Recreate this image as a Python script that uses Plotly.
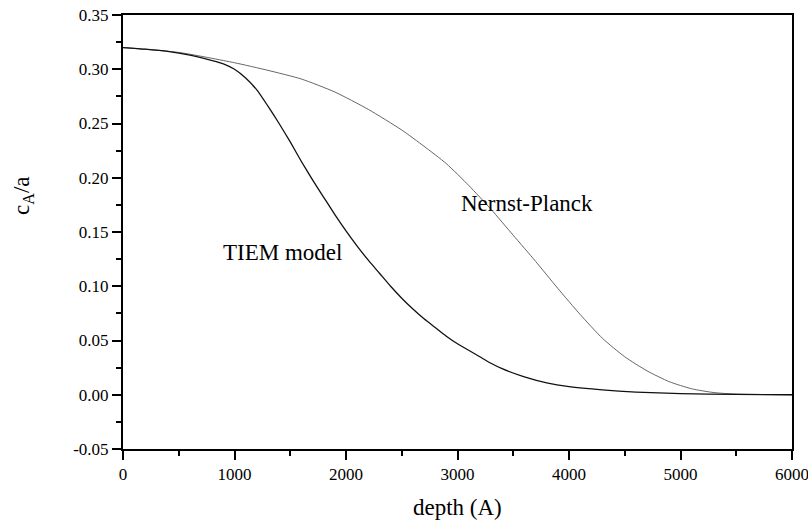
import plotly.graph_objects as go

# TIEM model curve
tiem_depth = [0, 200, 400, 600, 800, 900, 1000, 1100, 1200, 1300, 1400, 1500, 1600, 1700,
              1800, 1900, 2000, 2100, 2200, 2300, 2400, 2500, 2600, 2700, 2800, 2900,
              3000, 3100, 3200, 3300, 3400, 3600, 3800, 4000, 4300, 4600, 5000, 5500, 6000]
tiem_conc = [0.320, 0.3185, 0.3165, 0.313, 0.308, 0.305, 0.300, 0.292, 0.281, 0.266,
             0.250, 0.233, 0.215, 0.198, 0.182, 0.166, 0.151, 0.137, 0.124, 0.112,
             0.100, 0.089, 0.079, 0.070, 0.062, 0.054, 0.047, 0.041, 0.035, 0.029,
             0.024, 0.0165, 0.011, 0.0075, 0.0045, 0.0025, 0.001, 0.0003, 0.0]

# Nernst-Planck curve
np_depth = [0, 500, 1000, 1300, 1600, 1900, 2200, 2500, 2700, 2900, 3100, 3300, 3500,
            3700, 3900, 4100, 4300, 4500, 4700, 4900, 5100, 5300, 5500, 6000]
np_conc = [0.320, 0.3155, 0.306, 0.299, 0.291, 0.279, 0.263, 0.244, 0.229, 0.213,
           0.193, 0.171, 0.147, 0.123, 0.098, 0.074, 0.052, 0.035, 0.022, 0.012,
           0.0055, 0.002, 0.0006, 0.0]

x_ticks = [0, 1000, 2000, 3000, 4000, 5000, 6000]
x_tick_text = ["0", "1000", "2000", "3000", "4000", "5000", "6000"]
y_ticks = [-0.05, 0.00, 0.05, 0.10, 0.15, 0.20, 0.25, 0.30, 0.35]
y_tick_text = ["-0.05", "0.00", "0.05", "0.10", "0.15", "0.20", "0.25", "0.30", "0.35"]

FONT = "Liberation Serif"
TICKFONT = dict(family=FONT, size=17, color="black")
TITLEFONT = dict(family=FONT, size=23, color="black")

fig = go.Figure()
fig.add_trace(go.Scatter(x=np_depth, y=np_conc, mode="lines",
                         line=dict(color="#555555", width=0.9, shape="spline", smoothing=0.6),
                         showlegend=False))
fig.add_trace(go.Scatter(x=tiem_depth, y=tiem_conc, mode="lines",
                         line=dict(color="#111111", width=1.3, shape="spline", smoothing=0.6),
                         showlegend=False))

# curve labels
fig.add_annotation(x=1434, y=0.1314, text="TIEM model", showarrow=False, font=TITLEFONT)
fig.add_annotation(x=3624, y=0.1766, text="Nernst-Planck", showarrow=False, font=TITLEFONT)

# axis titles
fig.add_annotation(x=0.5, xref="paper", y=-0.134, yref="paper", text="depth (A)",
                   showarrow=False, xanchor="center", yanchor="middle", font=TITLEFONT)
fig.add_annotation(x=-0.1495, xref="paper", y=0.583, yref="paper", text="c<sub>A</sub>/a",
                   showarrow=False, xanchor="center", yanchor="middle", textangle=-90,
                   font=TITLEFONT)

common = dict(showgrid=False, zeroline=False, showline=True, linecolor="black",
              linewidth=2, mirror=True, ticks="outside", ticklen=9, tickwidth=2,
              tickcolor="black", tickfont=TICKFONT, ticklabeloverflow="allow")

fig.update_layout(
    width=808, height=520, plot_bgcolor="white", paper_bgcolor="white",
    margin=dict(l=123, r=16, t=15, b=71, autoexpand=False),
    font=dict(family=FONT, size=17, color="black"),
    xaxis=dict(range=[0, 6000], tickmode="array", tickvals=x_ticks, ticktext=x_tick_text,
               minor=dict(ticks="outside", ticklen=5, tickwidth=2, dtick=500,
                          tickcolor="black", showgrid=False),
               **common),
    yaxis=dict(range=[-0.05, 0.35], tickmode="array", tickvals=y_ticks, ticktext=y_tick_text,
               minor=dict(ticks="outside", ticklen=5, tickwidth=2, dtick=0.025,
                          tickcolor="black", showgrid=False),
               **common),
)

# remove the browser's default 8px body margin so the 808x520 figure fills the window
fig.write_html("out.html", config={"displayModeBar": False},
               post_script="document.body.style.margin='0';")
